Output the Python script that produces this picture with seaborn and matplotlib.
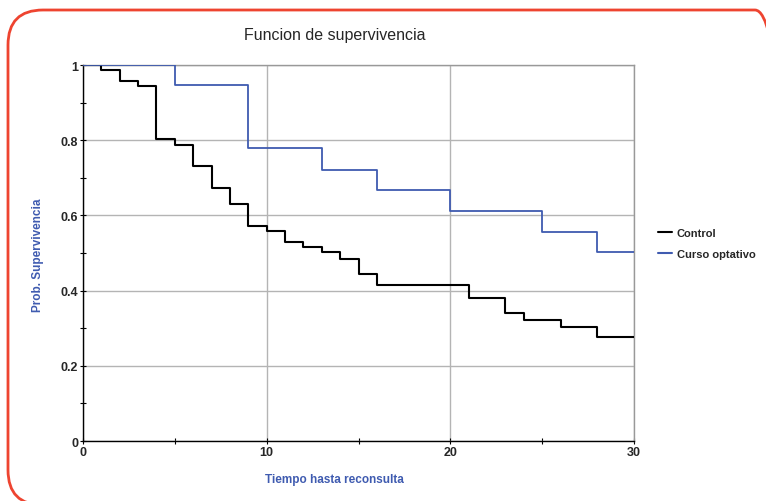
import numpy as np
import pandas as pd
import seaborn as sns
import matplotlib
matplotlib.use('Agg')
import matplotlib.pyplot as plt
from matplotlib.patches import FancyBboxPatch
from matplotlib.lines import Line2D
from matplotlib.transforms import IdentityTransform

control_t = [0, 1, 2, 3, 4, 5, 6, 7, 8, 9, 10, 11, 12, 13, 14, 15, 16, 21, 23, 24, 26, 28, 30]
control_s = [1, 0.988, 0.957, 0.943, 0.803, 0.788, 0.731, 0.674, 0.631, 0.573, 0.559, 0.530,
             0.516, 0.502, 0.485, 0.443, 0.415, 0.381, 0.340, 0.322, 0.302, 0.277, 0.277]
curso_t = [0, 5, 9, 13, 16, 20, 25, 28, 30]
curso_s = [1, 0.947, 0.779, 0.722, 0.668, 0.612, 0.557, 0.502, 0.502]

grupos = ['Control', 'Curso optativo']
colores = {'Control': 'black', 'Curso optativo': '#3f5bb0'}
x_ticks = [0, 10, 20, 30]
y_ticks = [0, 0.2, 0.4, 0.6, 0.8, 1]
y_ticklabels = ['0', '0.2', '0.4', '0.6', '0.8', '1']

df = pd.concat([
    pd.DataFrame({'tiempo': control_t, 'superv': control_s, 'grupo': 'Control'}),
    pd.DataFrame({'tiempo': curso_t, 'superv': curso_s, 'grupo': 'Curso optativo'}),
])

sns.set_style('white')
plt.rcParams['font.family'] = ['Liberation Sans Narrow', 'Liberation Sans', 'DejaVu Sans']

fig = plt.figure(figsize=(7.66, 5.02), dpi=100)
ax = fig.add_axes([0.1084, 0.1195, 0.7193, 0.749])

sns.lineplot(data=df, x='tiempo', y='superv', hue='grupo', palette=colores,
             estimator=None, drawstyle='steps-post', legend=False, ax=ax)
for line, lw in zip(ax.get_lines(), [1.5, 1.3]):
    line.set_linewidth(lw)
    line.set_zorder(3)

ax.set_xlim(0, 30)
ax.set_ylim(0, 1)
ax.set_xticks(x_ticks)
ax.set_xticks([5, 15, 25], minor=True)
ax.set_yticks(y_ticks)
ax.set_yticks([0.1, 0.3, 0.5, 0.7, 0.9], minor=True)
ax.set_yticklabels(y_ticklabels)
ax.grid(True, which='major', color='#b4b4b4', linewidth=1.0)
ax.tick_params(which='both', direction='inout', length=5, width=0.8, color='black',
               labelsize=9, pad=1, left=True, bottom=True)
for lab in ax.get_xticklabels() + ax.get_yticklabels():
    lab.set_fontweight('bold')
ax.spines['left'].set_color('black')
ax.spines['bottom'].set_color('black')
ax.spines['top'].set_color('#999999')
ax.spines['right'].set_color('#999999')
for s in ax.spines.values():
    s.set_linewidth(1.0)
ax.set_xlabel('')
ax.set_ylabel('')

fig.text(0.437, 0.930, 'Funcion de supervivencia', ha='center', va='center', fontsize=11.5)
fig.text(0.437, 0.044, 'Tiempo hasta reconsulta', ha='center', va='center',
         fontsize=8.5, fontweight='bold', color='#3f5bb0')
fig.text(0.050, 0.492, 'Prob. Supervivencia', ha='center', va='center', rotation=90,
         fontsize=8.5, fontweight='bold', color='#3f5bb0')

handles = [Line2D([], [], color=colores[g], linewidth=1.5) for g in grupos]
leg = ax.legend(handles, grupos, loc='center left', bbox_to_anchor=(1.025, 0.525),
                frameon=False, handlelength=1.3, handletextpad=0.4, labelspacing=1.0,
                prop={'size': 8, 'weight': 'bold'})

# marco rojo redondeado (coordenadas en pixeles)
borde = FancyBboxPatch((8, -4), 782, 495, transform=IdentityTransform(),
                       boxstyle='round,pad=0,rounding_size=35', fill=False,
                       edgecolor='#ee4430', linewidth=2.0)
fig.patches.append(borde)

fig.savefig('out.png', dpi=100)
